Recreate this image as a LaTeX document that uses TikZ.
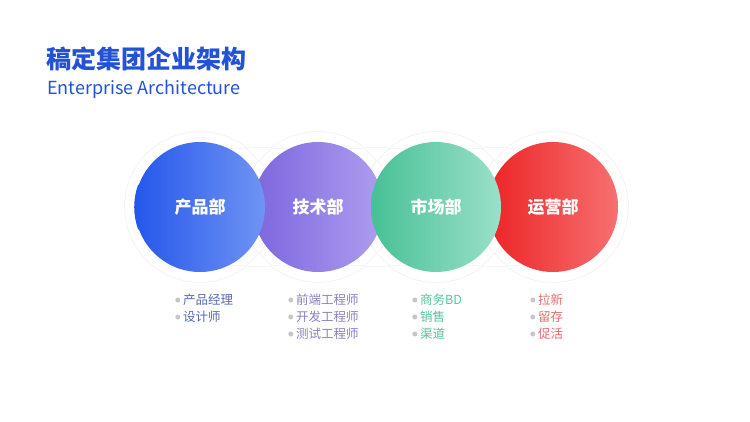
\documentclass[tikz,border=0pt]{standalone}
\usepackage{fontspec}
\setmainfont{Noto Sans CJK SC}
\usepackage{tikz}
\usetikzlibrary{positioning}
\definecolor{orgTitle}{RGB}{35,82,214}
\definecolor{orgBlueL}{RGB}{37,87,235}
\definecolor{orgBlueR}{RGB}{112,148,243}
\definecolor{orgPurpL}{RGB}{124,102,222}
\definecolor{orgPurpR}{RGB}{174,158,238}
\definecolor{orgGreenL}{RGB}{72,192,150}
\definecolor{orgGreenR}{RGB}{154,224,201}
\definecolor{orgRedL}{RGB}{236,36,38}
\definecolor{orgRedR}{RGB}{246,112,112}
\definecolor{orgDot}{RGB}{198,198,202}
\definecolor{orgTxtA}{RGB}{86,108,172}
\definecolor{orgTxtB}{RGB}{140,128,192}
\definecolor{orgTxtC}{RGB}{88,196,160}
\definecolor{orgTxtD}{RGB}{232,108,108}
\pgfdeclarehorizontalshading{orgBlue}{100bp}{color(0bp)=(orgBlueL); color(25bp)=(orgBlueL); color(75bp)=(orgBlueR); color(100bp)=(orgBlueR)}
\pgfdeclarehorizontalshading{orgPurp}{100bp}{color(0bp)=(orgPurpL); color(25bp)=(orgPurpL); color(75bp)=(orgPurpR); color(100bp)=(orgPurpR)}
\pgfdeclarehorizontalshading{orgGreen}{100bp}{color(0bp)=(orgGreenL); color(25bp)=(orgGreenL); color(75bp)=(orgGreenR); color(100bp)=(orgGreenR)}
\pgfdeclarehorizontalshading{orgRed}{100bp}{color(0bp)=(orgRedL); color(25bp)=(orgRedL); color(75bp)=(orgRedR); color(100bp)=(orgRedR)}
\tikzset{
  orgcirc/.style={circle, minimum size=130pt, inner sep=0pt,
                  text=white, font=\fontsize{17}{20}\selectfont\bfseries},
  orghalo/.style={draw=black!6, line width=1.4pt},
  orgitem/.style={anchor=west, inner sep=0pt, font=\fontsize{12.5}{14}\selectfont},
  orgdot/.style={circle, fill=orgDot, minimum size=5pt, inner sep=0pt},
}

\begin{document}
\begin{tikzpicture}[x=1pt, y=-1pt]
  \useasboundingbox[fill=white] (0,0) rectangle (750,422);
  % title
  \node[anchor=west, inner sep=0pt, text=orgTitle,
        font=\fontsize{25}{29}\selectfont\bfseries] (title) at (46,59) {稿定集团企业架构};
  \node[anchor=base west, inner sep=0pt, text=orgTitle,
        font=\fontsize{18}{21}\selectfont] (subtitle) at (47,95) {Enterprise Architecture};
  % white band behind the circles
  \draw[orghalo] (200,207) circle (75) (318,207) circle (75)
                 (436,207) circle (75) (553,207) circle (75)
                 (200,148) rectangle (553,266);
  \fill[white] (200,207) circle (75) (318,207) circle (75)
               (436,207) circle (75) (553,207) circle (75)
               (200,148) rectangle (553,266);
  % departments
  \node[orgcirc, shading=orgPurp] (tech) at (318,207) {技术部};
  \node[orgcirc, shading=orgRed] (ops) at (553,207) {运营部};
  \node[orgcirc, shading=orgBlue] (prod) at (200,207) {产品部};
  \node[orgcirc, shading=orgGreen] (mkt) at (436,207) {市场部};
  \draw[orgBlueL, line width=1.2pt] (prod.200) arc[start angle=160, end angle=200, radius=65];
  % roles
  \node[orgitem, text=orgTxtA, label={[orgdot, label distance=2.5pt]left:{}}] (prodA) at (183,300) {产品经理};
  \node[orgitem, text=orgTxtA, label={[orgdot, label distance=2.5pt]left:{}}] (prodB) at (183,317) {设计师};
  \node[orgitem, text=orgTxtB, label={[orgdot, label distance=2.5pt]left:{}}] (techA) at (296,300) {前端工程师};
  \node[orgitem, text=orgTxtB, label={[orgdot, label distance=2.5pt]left:{}}] (techB) at (296,317) {开发工程师};
  \node[orgitem, text=orgTxtB, label={[orgdot, label distance=2.5pt]left:{}}] (techC) at (296,334) {测试工程师};
  \node[orgitem, text=orgTxtC, label={[orgdot, label distance=2.5pt]left:{}}] (mktA) at (420,300) {商务BD};
  \node[orgitem, text=orgTxtC, label={[orgdot, label distance=2.5pt]left:{}}] (mktB) at (420,317) {销售};
  \node[orgitem, text=orgTxtC, label={[orgdot, label distance=2.5pt]left:{}}] (mktC) at (420,334) {渠道};
  \node[orgitem, text=orgTxtD, label={[orgdot, label distance=2.5pt]left:{}}] (opsA) at (538,300) {拉新};
  \node[orgitem, text=orgTxtD, label={[orgdot, label distance=2.5pt]left:{}}] (opsB) at (538,317) {留存};
  \node[orgitem, text=orgTxtD, label={[orgdot, label distance=2.5pt]left:{}}] (opsC) at (538,334) {促活};
\end{tikzpicture}
\end{document}
